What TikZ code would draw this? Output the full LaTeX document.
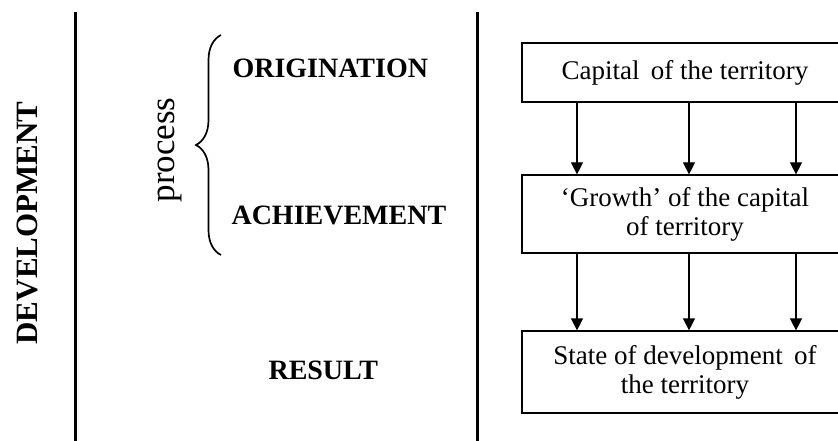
\documentclass[tikz,border=0pt]{standalone}
\usepackage{fontspec}
\setmainfont{Liberation Serif}
\usetikzlibrary{arrows.meta,decorations.pathreplacing}

\begin{document}
\begin{tikzpicture}[x=1pt, y=-1pt,
    stage/.style={anchor=west, font=\fontsize{28}{30}\selectfont\bfseries},
    box/.style={rectangle, draw=black, line width=1.2pt, minimum width=326pt, align=center, font=\fontsize{27}{29}\selectfont},
    arrow/.style={-{Triangle[length=12pt,width=12pt]}, line width=1.2pt},
    divider/.style={line width=3pt}
]
\useasboundingbox (0,0) rectangle (838,441);

% Left column
\node[rotate=90, font=\fontsize{31}{33}\selectfont\bfseries] at (27,223) (dev) {DEVELOPMENT};
\draw[divider] (75,12) -- (75,445);

% Middle column
\node[rotate=90, font=\fontsize{35}{37}\selectfont] at (170,150) (process) {process};
\draw[decorate, decoration={brace, amplitude=25pt}, line width=1.7pt] (221,255) -- (221,35);
\node[stage] at (229,68) (orig) {ORIGINATION};
\node[stage] at (228,215) (achieve) {ACHIEVEMENT};
\node[stage] at (265,370) (result) {RESULT};
\draw[divider] (477,12) -- (477,445);

% Right column boxes
\node[box, minimum height=59pt] at (685,72.5) (capital) {Capital\, of the territory};
\node[box, minimum height=78pt] at (685,214) (growth) {`Growth' of the capital\\of territory};
\node[box, minimum height=82pt] at (685,372) (state) {State of development\, of\\the territory};

% Arrows between boxes
\foreach \dx in {-108,4,111} {
  \draw[arrow] ([xshift=\dx pt]capital.south) -- ([xshift=\dx pt]growth.north);
  \draw[arrow] ([xshift=\dx pt]growth.south) -- ([xshift=\dx pt]state.north);
}

\end{tikzpicture}
\end{document}
